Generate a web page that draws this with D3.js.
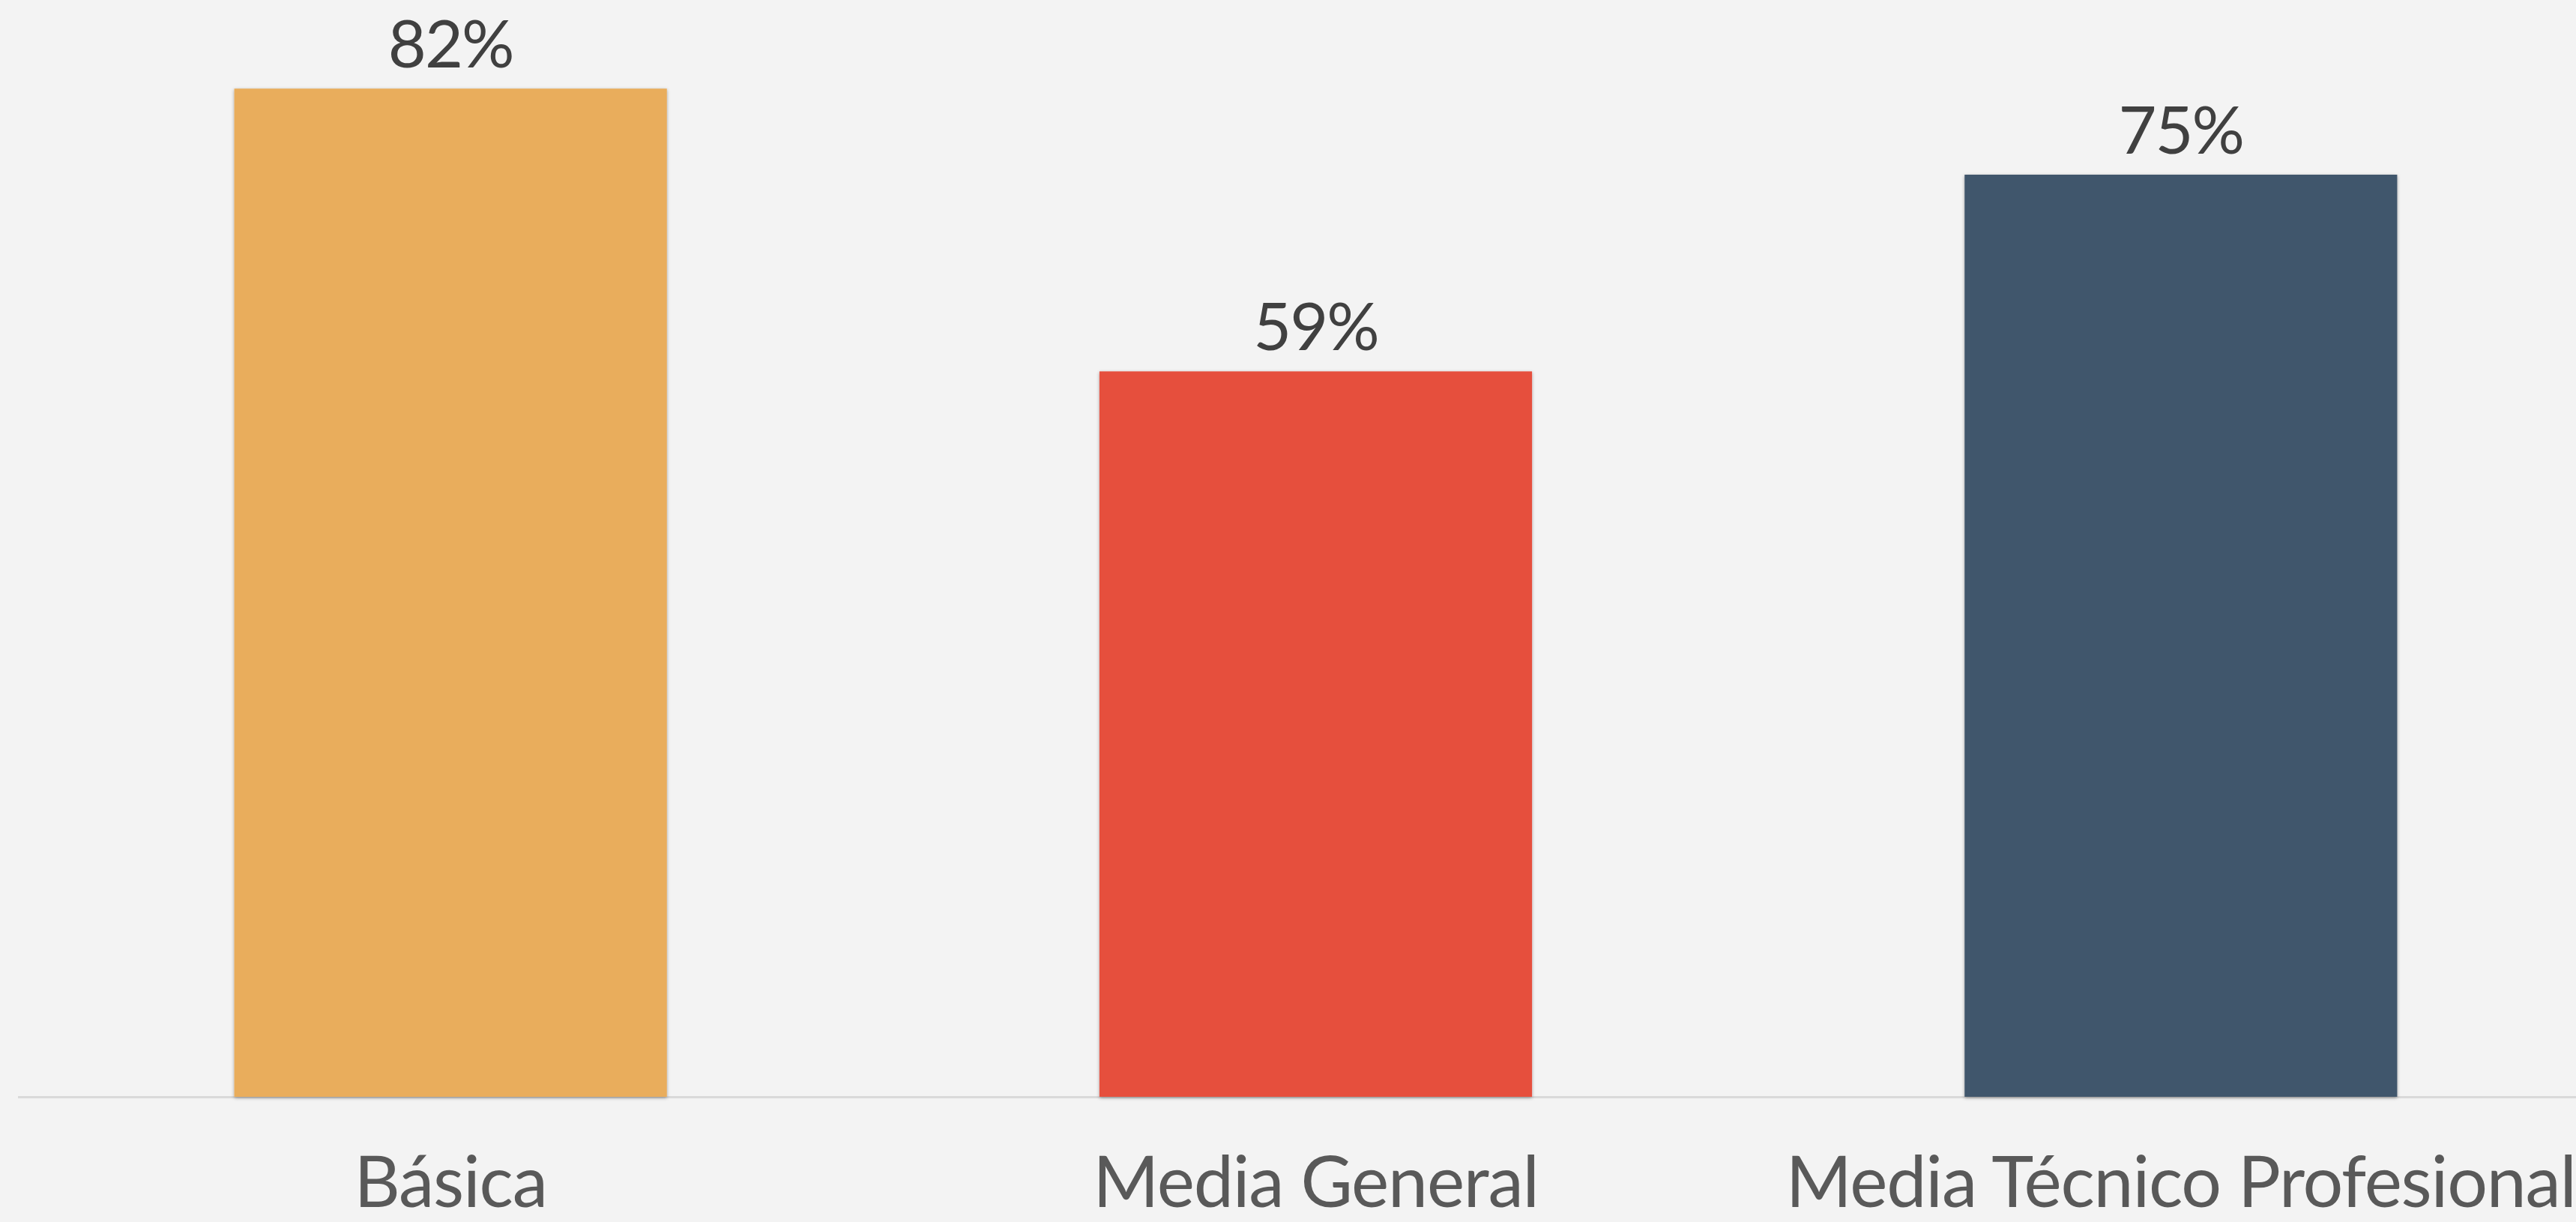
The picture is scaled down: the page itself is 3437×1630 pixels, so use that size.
<!DOCTYPE html>
<html>
<head>
<meta charset="utf-8">
<script src="https://cdn.jsdelivr.net/npm/d3@7"></script>
<style>
  html, body { margin: 0; padding: 0; background: #f3f3f3; overflow: hidden; }
  svg { display: block; }
</style>
</head>
<body>
<svg id="chart" width="3437" height="1630"></svg>
<script>
const categories = ["Básica", "Media General", "Media Técnico Profesional"];
const values = [0.82, 0.59, 0.75];
const colors = ["#E9AD5C", "#E64F3D", "#41576C"];

const W = 3437, H = 1630;
const svg = d3.select("#chart");
svg.append("rect").attr("width", W).attr("height", H).attr("fill", "#f3f3f3");

const defs = svg.append("defs");
const f = defs.append("filter").attr("id", "shadow")
  .attr("x", "-5%").attr("y", "-5%").attr("width", "110%").attr("height", "110%");
f.append("feDropShadow").attr("dx", 0).attr("dy", 1.5).attr("stdDeviation", 2)
  .attr("flood-color", "#000").attr("flood-opacity", 0.35);

const x = d3.scaleBand().domain(categories).range([24, 3487])
  .paddingInner(0.5).paddingOuter(0.25);
const y = d3.scaleLinear().domain([0, 1]).range([1463, -177]);

// axis baseline
svg.append("line")
  .attr("x1", 24).attr("x2", W)
  .attr("y1", y(0) + 0.5).attr("y2", y(0) + 0.5)
  .attr("stroke", "#d9d9d9").attr("stroke-width", 3);

const data = categories.map((c, i) => ({c, v: values[i], col: colors[i]}));

svg.selectAll("rect.bar").data(data).join("rect")
  .attr("class", "bar")
  .attr("x", d => x(d.c))
  .attr("width", x.bandwidth())
  .attr("y", d => y(d.v))
  .attr("height", d => y(0) - y(d.v))
  .attr("fill", d => d.col)
  .attr("filter", "url(#shadow)");

svg.selectAll("text.val").data(data).join("text")
  .attr("class", "val")
  .attr("x", d => x(d.c) + x.bandwidth() / 2)
  .attr("y", d => y(d.v) - 28)
  .attr("text-anchor", "middle")
  .attr("font-family", "Lato, 'Open Sans', sans-serif")
  .attr("font-weight", 400)
  .attr("font-size", 88)
  .attr("letter-spacing", -2)
  .attr("fill", "#404040")
  .text(d => d3.format(".0%")(d.v));

svg.selectAll("text.cat").data(data).join("text")
  .attr("class", "cat")
  .attr("x", d => x(d.c) + x.bandwidth() / 2)
  .attr("y", 1610)
  .attr("text-anchor", "middle")
  .attr("font-family", "Lato, 'Open Sans', sans-serif")
  .attr("font-weight", 400)
  .attr("font-size", 95)
  .attr("letter-spacing", -1.2)
  .attr("fill", "#595959")
  .text(d => d.c);
</script>
</body>
</html>
